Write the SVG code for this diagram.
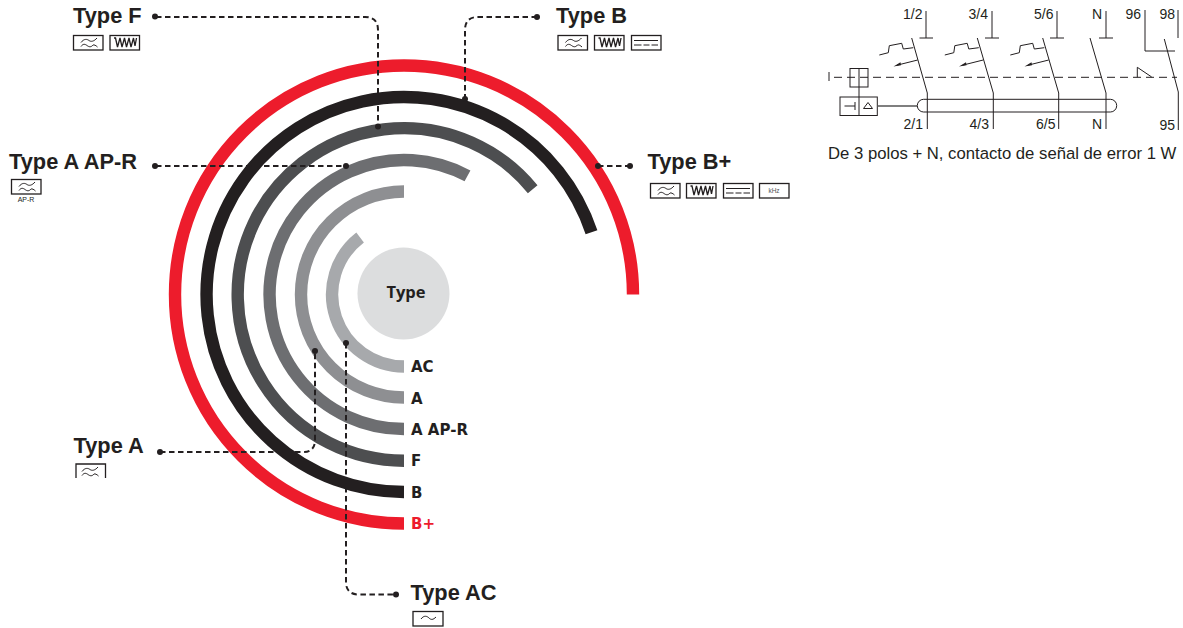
<svg xmlns="http://www.w3.org/2000/svg" width="1183" height="628" viewBox="0 0 1183 628">
<style>
.ring{fill:none;stroke-width:12.4}
.dash{fill:none;stroke:#231f20;stroke-width:2;stroke-dasharray:5.500 3.500}
.dot{fill:#231f20}
.title{font:bold 21.800px "Liberation Sans",Arial,sans-serif;fill:#231f20}
.lab{font:bold 15px "DejaVu Sans",sans-serif;fill:#231f20}
.box{fill:#fff;stroke:#231f20;stroke-width:1.300}
.ic{fill:none;stroke:#231f20;stroke-width:1}
.s{fill:none;stroke:#231f20;stroke-width:1}
.t{font:14px "Liberation Sans",Arial,sans-serif;fill:#231f20}
</style>
<defs>
<g id="i-wave"><rect class="box" x="0.500" y="0.500" width="29.500" height="14.500"/><path class="ic" d="M8 7.500C11 3.500 14 4 16 5.500S21 6.500 24 3M8 11.500C10 8.500 12 9 14 10.500S18 12.500 20 10C21 9.500 23 10.500 24.500 12"/></g>
<g id="i-pulse"><rect class="box" x="0.500" y="0.500" width="29.500" height="14.500"/><path class="ic" style="stroke-width:1.300" d="M4.500 3L6 3L8 12L10.500 3L12.500 12L15 3L17 12L19.500 3L21.500 12L24 3L25.500 11L27 3"/></g>
<g id="i-dc"><rect class="box" x="0.500" y="0.500" width="29.500" height="14.500"/><path class="ic" d="M3 5.500H27M3 10H10.500M12.500 10H18.500M20.500 10H27"/></g>
<g id="i-khz"><rect class="box" x="0.500" y="0.500" width="29.500" height="14.500"/><text x="15" y="10" text-anchor="middle" font-family="Liberation Sans, sans-serif" font-size="6.500" fill="#555">kHz</text></g>
<path id="thermal" class="s" d="M879.300 55L888.300 52.700L889.300 45.700L901.700 43.300L903.300 49L913.300 47.700M917.700 60L897 65.200"/>
<path id="head" fill="#231f20" d="M893.500 66.500L900.500 62.300L901 65.300Z"/>
</defs>
<g id="rings">
<path class="ring" stroke="#a7a9ac" d="M404 366.500A72 72 0 0 1 360.100 237.500"/>
<path class="ring" stroke="#8e8f92" d="M404 397.500A103 103 0 0 1 404 191.500"/>
<path class="ring" stroke="#6d6e71" d="M404 429A134.500 134.500 0 1 1 467.500 175.900"/>
<path class="ring" stroke="#4d4e50" d="M404 460.800A166.300 166.300 0 1 1 532.700 189.200"/>
<path class="ring" stroke="#231f20" d="M404 492A197.500 197.500 0 1 1 591.500 232.300"/>
<path class="ring" stroke="#ed1c2c" d="M404 523.500A229 229 0 1 1 633 294.500"/>
</g>
<g id="center"><circle cx="403.500" cy="293.500" r="46" fill="#dcddde"/><text x="406" y="298" text-anchor="middle" font-family="Open Sans, sans-serif" font-weight="700" font-size="16.500" fill="#231f20">Type</text></g>
<g id="ring-labels">
<text class="lab" x="411" y="372.300">AC</text>
<text class="lab" x="411" y="403.600">A</text>
<text class="lab" x="411" y="435">A AP-R</text>
<text class="lab" x="411" y="466.300">F</text>
<text class="lab" x="411" y="497.500">B</text>
<text class="lab" x="411" y="528.800" style="fill:#ed1c2c">B+</text>
</g>
<g id="connectors">
<path class="dash" d="M156 17H365Q378 17 378 30V127"/>
<path class="dash" d="M537 17H478Q465 17 465 30V99"/>
<path class="dash" d="M156 166H346"/>
<path class="dash" d="M598 166H630"/>
<path class="dash" d="M160 452H303Q315 452 315 440V351"/>
<path class="dash" d="M346 343V582Q346 594.500 359 594.500H396"/>
<g class="dot">
<circle cx="155" cy="16.500" r="3"/><circle cx="378" cy="126.500" r="3"/>
<circle cx="537" cy="17" r="3"/><circle cx="465" cy="99" r="3"/>
<circle cx="155" cy="166" r="3"/><circle cx="346" cy="166" r="3"/>
<circle cx="598" cy="166" r="3"/><circle cx="630" cy="166" r="3"/>
<circle cx="160" cy="452" r="3"/><circle cx="315" cy="351" r="3"/>
<circle cx="346" cy="343" r="3"/><circle cx="396" cy="594.500" r="3"/>
</g>
</g>
<g id="type-f"><text class="title" x="73" y="23">Type F</text><use href="#i-wave" x="73" y="35"/><use href="#i-pulse" x="109.500" y="35"/></g>
<g id="type-b"><text class="title" x="556" y="23">Type B</text><use href="#i-wave" x="557.500" y="35"/><use href="#i-pulse" x="594" y="35"/><use href="#i-dc" x="631" y="35"/></g>
<g id="type-a-ap-r"><text class="title" x="9" y="169">Type A AP-R</text><use href="#i-wave" x="11" y="179"/><text x="26" y="202" text-anchor="middle" font-family="Liberation Sans, sans-serif" font-size="7" fill="#231f20">AP-R</text></g>
<g id="type-b-plus"><text class="title" x="647.500" y="169">Type B+</text><use href="#i-wave" x="650" y="183"/><use href="#i-pulse" x="686" y="183"/><use href="#i-dc" x="723" y="183"/><use href="#i-khz" x="759" y="183"/></g>
<g id="type-a"><text class="title" x="73.500" y="453">Type A</text><path class="s" style="stroke-width:1.300" d="M76 478V464H105.500V478"/><path class="ic" d="M82 471.500C85 467.500 88 468 90 469.500S95 470.500 98 467M82 475.500C84 472.500 86 473 88 474.500S92 476.500 94 474C95 473.500 97 474.500 98.500 476"/></g>
<g id="type-ac"><text class="title" x="410.500" y="600">Type AC</text><rect class="box" x="413" y="611.500" width="30" height="14.500"/><path class="ic" d="M421 619C424 615 427 616 429 618S433 620 436 617"/></g>
<g id="schematic">
<path class="s" d="M926 11V38M919.500 38H933M992 11V38M985 38H999M1057 11V38M1050 38H1064M1106 11V38M1099 38H1113"/>
<path class="s" d="M1145 10V51H1175M1178 10V38M1164.300 39L1178.300 92V130"/>
<path class="s" d="M911.700 38L927.300 93V129M977.300 38L993.300 93V129M1042.700 38L1058.700 93V129M1090 38L1106 93V129"/>
<use href="#thermal"/><use href="#head"/>
<use href="#thermal" x="65.500"/><use href="#head" x="65.500"/>
<use href="#thermal" x="131"/><use href="#head" x="131"/>
<path class="s" d="M829 72V81"/>
<path class="s" stroke-dasharray="8 5" d="M834 77.300H1177"/>
<rect class="s" x="850" y="68.500" width="18" height="18.500"/>
<path class="s" d="M859 68.500V97"/>
<rect class="s" x="840" y="97" width="37.300" height="18.500"/>
<path class="s" d="M859 97V115.500M844.500 106H855M855 102V110M863.500 108.500L868 102.500L872.500 108.500Z"/>
<path d="M877.300 106H917" fill="none" stroke="#555" stroke-width="1.500"/>
<rect class="s" x="917.300" y="99.300" width="199.400" height="12.700" rx="6.300"/>
<path class="s" d="M1137.300 77.300V67.300L1151.700 77"/>
<text class="t" x="922.500" y="19" text-anchor="end">1/2</text>
<text class="t" x="988" y="19" text-anchor="end">3/4</text>
<text class="t" x="1053.500" y="19" text-anchor="end">5/6</text>
<text class="t" x="1102" y="19" text-anchor="end">N</text>
<text class="t" x="1141" y="19" text-anchor="end">96</text>
<text class="t" x="1175" y="19" text-anchor="end">98</text>
<text class="t" x="923" y="129" text-anchor="end">2/1</text>
<text class="t" x="989" y="129" text-anchor="end">4/3</text>
<text class="t" x="1055.500" y="129" text-anchor="end">6/5</text>
<text class="t" x="1102" y="129" text-anchor="end">N</text>
<text class="t" x="1175" y="130" text-anchor="end">95</text>
<text class="t" x="828" y="159" style="font-size:16.700px">De 3 polos + N, contacto de señal de error 1 W</text>
</g>
</svg>
